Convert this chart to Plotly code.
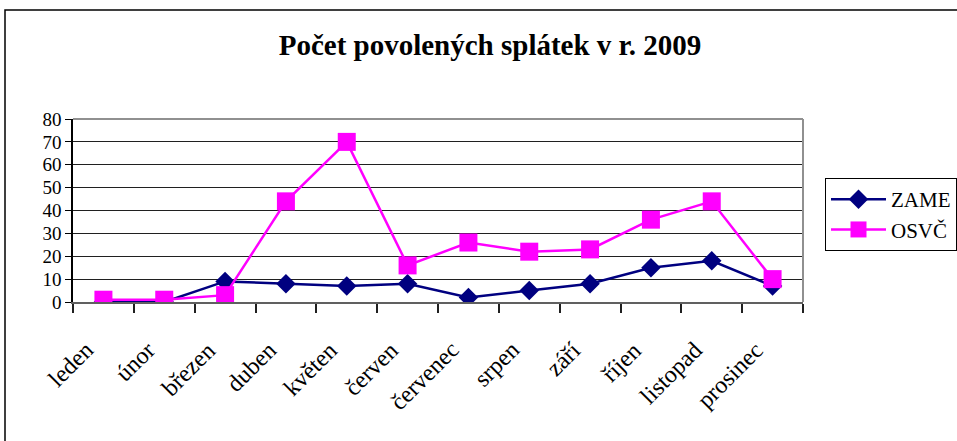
import plotly.graph_objects as go

months = ["leden", "únor", "březen", "duben", "květen", "červen", "červenec",
          "srpen", "září", "říjen", "listopad", "prosinec"]
zame = [0, 0, 9, 8, 7, 8, 2, 5, 8, 15, 18, 7]
osvc = [1, 1, 3, 44, 70, 16, 26, 22, 23, 36, 44, 10]
y_ticks = [0, 10, 20, 30, 40, 50, 60, 70, 80]

SERIF = "Liberation Serif, Times New Roman, serif"

fig = go.Figure()
fig.add_trace(go.Scatter(
    x=months, y=zame, name="ZAME", mode="lines+markers",
    line=dict(color="#000080", width=2.5),
    marker=dict(symbol="diamond", size=15, color="#000080"),
))
fig.add_trace(go.Scatter(
    x=months, y=osvc, name="OSVČ", mode="lines+markers",
    line=dict(color="#FF00FF", width=2.5),
    marker=dict(symbol="square", size=18, color="#FF00FF"),
))

L, R, T, B = 73, 154, 119, 139
W, H = 957, 441
pw = W - L - R
ph = H - T - B

fig.update_layout(
    width=W, height=H,
    margin=dict(l=L, r=R, t=T, b=B, autoexpand=False),
    paper_bgcolor="white", plot_bgcolor="white",
    title=dict(text="<b>Počet povolených splátek v r. 2009</b>",
               font=dict(family=SERIF, size=29, color="black"),
               x=490 / W, xref="container", xanchor="center",
               y=1 - 45 / H, yref="container", yanchor="middle"),
    font=dict(family=SERIF, color="black"),
    legend=dict(x=(825 - L) / pw, y=(H - B - 178) / ph, xanchor="left", yanchor="top",
                bordercolor="black", borderwidth=1, bgcolor="white",
                font=dict(family=SERIF, size=21, color="black"),
                tracegroupgap=2, itemwidth=55),
    showlegend=True,
)
fig.update_xaxes(
    type="category", range=[-0.5, len(months) - 0.5],
    tickson="boundaries", ticks="outside", ticklen=9,
    tickcolor="#202020", tickwidth=1.5,
    showline=True, linecolor="#606060", linewidth=2, mirror=False,
    showgrid=False, showticklabels=False,
)
fig.update_yaxes(
    range=[0, 80], tickvals=y_ticks, ticktext=[str(v) for v in y_ticks],
    ticks="outside", ticklen=6, tickcolor="black",
    showline=True, linecolor="black", linewidth=1.5, mirror=False,
    showgrid=True, gridcolor="#202020", gridwidth=1, zeroline=False,
    tickfont=dict(family=SERIF, size=19, color="black"),
)
# rotated category labels
for m in months:
    fig.add_annotation(x=m, xref="x", y=-32 / ph, yref="paper",
                       text=m, showarrow=False, textangle=-45,
                       xanchor="right", yanchor="top", xshift=-2,
                       font=dict(family=SERIF, size=24, color="black"))
# top and right border of plot area
fig.add_shape(type="line", xref="paper", yref="paper", x0=0, x1=1, y0=1, y1=1,
              line=dict(color="#909090", width=2))
fig.add_shape(type="line", xref="paper", yref="paper", x0=1, x1=1, y0=0, y1=1,
              line=dict(color="#909090", width=2))
# outer chart frame
fig.add_shape(type="rect", xref="paper", yref="paper",
              x0=(5 - L) / pw, x1=(W + 5 - L) / pw,
              y0=(H - B - H - 5) / ph, y1=(H - B - 10) / ph,
              line=dict(color="black", width=1.5), layer="below")

fig.write_html("out.html", config={"displayModeBar": False},
               post_script="document.body.style.margin='0';")
